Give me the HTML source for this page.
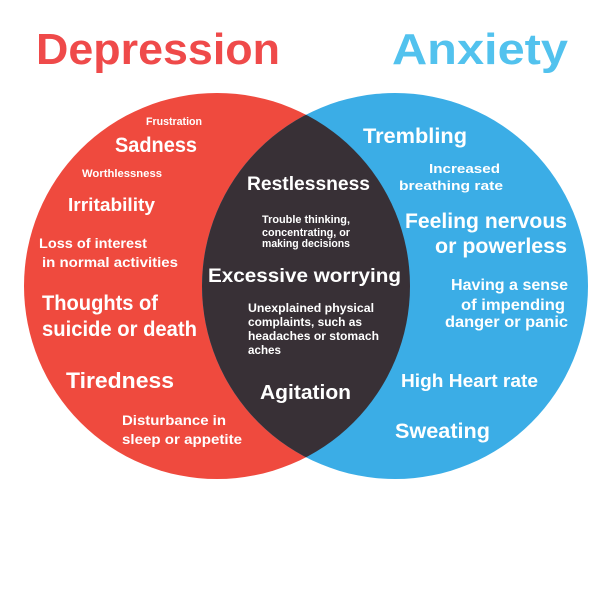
<!DOCTYPE html>
<html><head><meta charset="utf-8"><style>
body{margin:0;background:#fff}
svg text{font-family:"Liberation Sans",sans-serif;font-weight:bold;fill:#fff}
</style></head><body>
<svg width="600" height="600" viewBox="0 0 600 600" xmlns="http://www.w3.org/2000/svg">
<defs><clipPath id="c"><circle cx="217" cy="286" r="193"/></clipPath></defs>
<rect width="600" height="600" fill="#fff"/>
<circle cx="217" cy="286" r="193" fill="#ef4a3e"/>
<circle cx="395" cy="286" r="193" fill="#3bade6"/>
<circle cx="395" cy="286" r="193" fill="#383036" clip-path="url(#c)"/>
<g lengthAdjust="spacingAndGlyphs">
<text x="36" y="64" font-size="44" textLength="244" lengthAdjust="spacingAndGlyphs" style="fill:#ef4a4a">Depression</text>
<text x="392" y="64" font-size="44" textLength="176" lengthAdjust="spacingAndGlyphs" style="fill:#52c2ee">Anxiety</text>
<text x="146" y="125" font-size="11" textLength="56" lengthAdjust="spacingAndGlyphs">Frustration</text>
<text x="115" y="152" font-size="21" textLength="82" lengthAdjust="spacingAndGlyphs">Sadness</text>
<text x="82" y="177" font-size="11" textLength="80" lengthAdjust="spacingAndGlyphs">Worthlessness</text>
<text x="68" y="211" font-size="18" textLength="87" lengthAdjust="spacingAndGlyphs">Irritability</text>
<text x="39" y="248" font-size="14" textLength="108" lengthAdjust="spacingAndGlyphs">Loss of interest</text>
<text x="42" y="267" font-size="14" textLength="136" lengthAdjust="spacingAndGlyphs">in normal activities</text>
<text x="42" y="310" font-size="21" textLength="116" lengthAdjust="spacingAndGlyphs">Thoughts of</text>
<text x="42" y="336" font-size="21" textLength="155" lengthAdjust="spacingAndGlyphs">suicide or death</text>
<text x="66" y="388" font-size="22" textLength="108" lengthAdjust="spacingAndGlyphs">Tiredness</text>
<text x="122" y="425" font-size="14" textLength="104" lengthAdjust="spacingAndGlyphs">Disturbance in</text>
<text x="122" y="444" font-size="14" textLength="120" lengthAdjust="spacingAndGlyphs">sleep or appetite</text>
<text x="247" y="190" font-size="19" textLength="123" lengthAdjust="spacingAndGlyphs">Restlessness</text>
<text x="262" y="223" font-size="11" textLength="88" lengthAdjust="spacingAndGlyphs">Trouble thinking,</text>
<text x="262" y="236" font-size="11" textLength="88" lengthAdjust="spacingAndGlyphs">concentrating, or</text>
<text x="262" y="247" font-size="11" textLength="88" lengthAdjust="spacingAndGlyphs">making decisions</text>
<text x="208" y="282" font-size="19" textLength="193" lengthAdjust="spacingAndGlyphs">Excessive worrying</text>
<text x="248" y="312" font-size="12" textLength="126" lengthAdjust="spacingAndGlyphs">Unexplained physical</text>
<text x="248" y="326" font-size="12" textLength="114" lengthAdjust="spacingAndGlyphs">complaints, such as</text>
<text x="248" y="340" font-size="12" textLength="131" lengthAdjust="spacingAndGlyphs">headaches or stomach</text>
<text x="248" y="354" font-size="12" textLength="33" lengthAdjust="spacingAndGlyphs">aches</text>
<text x="260" y="399" font-size="20" textLength="91" lengthAdjust="spacingAndGlyphs">Agitation</text>
<text x="363" y="143" font-size="21" textLength="104" lengthAdjust="spacingAndGlyphs">Trembling</text>
<text x="429" y="173" font-size="13" textLength="71" lengthAdjust="spacingAndGlyphs">Increased</text>
<text x="399" y="190" font-size="13" textLength="104" lengthAdjust="spacingAndGlyphs">breathing rate</text>
<text x="405" y="228" font-size="21" textLength="162" lengthAdjust="spacingAndGlyphs">Feeling nervous</text>
<text x="435" y="253" font-size="21" textLength="132" lengthAdjust="spacingAndGlyphs">or powerless</text>
<text x="451" y="290" font-size="16" textLength="117" lengthAdjust="spacingAndGlyphs">Having a sense</text>
<text x="461" y="310" font-size="16" textLength="104" lengthAdjust="spacingAndGlyphs">of impending</text>
<text x="445" y="327" font-size="16" textLength="123" lengthAdjust="spacingAndGlyphs">danger or panic</text>
<text x="401" y="387" font-size="18" textLength="137" lengthAdjust="spacingAndGlyphs">High Heart rate</text>
<text x="395" y="438" font-size="21" textLength="95" lengthAdjust="spacingAndGlyphs">Sweating</text>
</g>
</svg>
</body></html>
